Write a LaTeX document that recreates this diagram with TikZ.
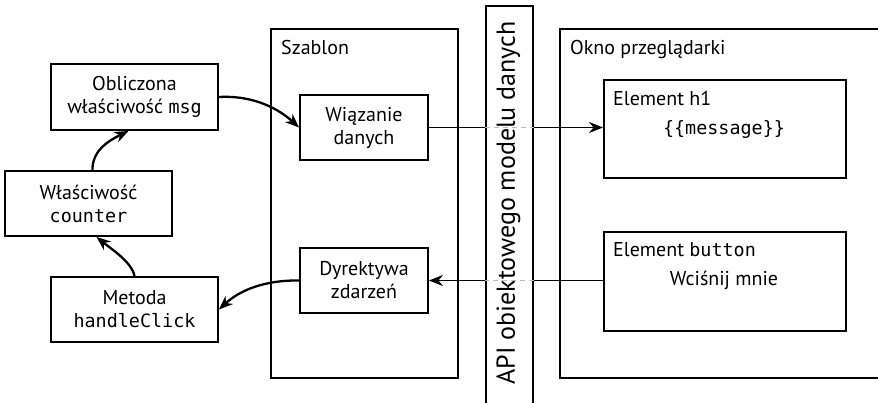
\documentclass[tikz,border=0pt]{standalone}
\usepackage{fontspec}
\setmainfont{PT Sans}
\setmonofont{DejaVu Sans Mono}[Scale=0.92]
\usetikzlibrary{arrows.meta,calc}
\begin{document}
\begin{tikzpicture}[x=1pt,y=-1pt,
  box/.style={draw,line width=1.9pt,inner sep=0pt,align=center,font=\fontsize{20}{23}\selectfont},
  lbl/.style={anchor=north west,inner sep=0pt,font=\fontsize{20}{23}\selectfont},
  cont/.style={draw,line width=1.9pt},
  curv/.style={line width=2.3pt,-{Stealth[length=14pt,width=11pt]}},
  strt/.style={line width=1.5pt,-{Stealth[length=14pt,width=11pt]}},
  thin/.style={line width=1.5pt},
  dsh/.style={line width=0.9pt,gray!55,dash pattern=on 5pt off 4pt}]
\useasboundingbox (0,0) rectangle (878,402);
% containers
\draw[cont] (271,29) rectangle (458,378);
\node[lbl] (szl) at (281,40) {Szablon};
\draw[cont] (560,29) rectangle (890,378);
\node[lbl] (okl) at (570,40) {Okno przeglądarki};
\node[draw,line width=1.9pt,minimum width=47pt,minimum height=405pt,inner sep=0pt,anchor=north west] (api) at (485,5) {};
\node[rotate=90,inner sep=0pt,font=\fontsize{26}{30}\selectfont] (apit) at (508.5,203) {API obiektowego modelu danych};
% left boxes
\node[box,minimum width=167pt,minimum height=66pt] (obl) at (134.5,97) {Obliczona\\właściwość \texttt{msg}};
\node[box,minimum width=167pt,minimum height=65pt] (cnt) at (88.5,203.5) {Właściwość\\\texttt{counter}};
\node[box,minimum width=167pt,minimum height=65pt] (met) at (134.5,309.5) {Metoda\\\texttt{handleClick}};
% template boxes
\node[box,minimum width=128pt,minimum height=65pt] (wia) at (364,127.5) {Wiązanie\\danych};
\node[box,minimum width=128pt,minimum height=65pt] (dyr) at (364,280.5) {Dyrektywa\\zdarzeń};
% browser elements
\node[draw,line width=1.9pt,minimum width=242pt,minimum height=98pt,inner sep=0pt,anchor=north west] (h1) at (603,79) {};
\node[lbl] (h1l) at ($(h1.north west)+(10,12)$) {Element h1};
\node[inner sep=0pt,font=\fontsize{20}{23}\selectfont] (h1t) at (724,129) {\texttt{\{\{message\}\}}};
\node[draw,line width=1.9pt,minimum width=242pt,minimum height=99pt,inner sep=0pt,anchor=north west] (btn) at (603,231) {};
\node[lbl] (btnl) at ($(btn.north west)+(10,11)$) {Element \texttt{button}};
\node[inner sep=0pt,font=\fontsize{20}{23}\selectfont] (btnt) at (724,280) {Wciśnij mnie};
% straight connectors
\coordinate (a1) at (wia.east -| api.west);
\coordinate (a2) at (wia.east -| api.east);
\draw[thin] (wia.east) -- (a1);
\draw[dsh] (a1) -- (a2);
\draw[strt] (a2) -- (wia.east -| h1.west);
\coordinate (b1) at (dyr.east -| api.east);
\coordinate (b2) at (dyr.east -| api.west);
\draw[thin] (dyr.east -| btn.west) -- (b1);
\draw[dsh] (b1) -- (b2);
\draw[strt] (b2) -- (dyr.east);
% curved connectors
\draw[curv] (obl.east) .. controls (255,95) and (280,110) .. (wia.west);
\draw[curv] (dyr.west) .. controls (265,280) and (240,290) .. (met.east);
\draw[curv] ($(cnt.north)+(4,0)$) .. controls (92,150) and (110,140) .. ($(obl.south)+(-6,0)$);
\draw[curv] (met.north) .. controls (132,262) and (110,248) .. ($(cnt.south)+(8,0)$);
\end{tikzpicture}
\end{document}
